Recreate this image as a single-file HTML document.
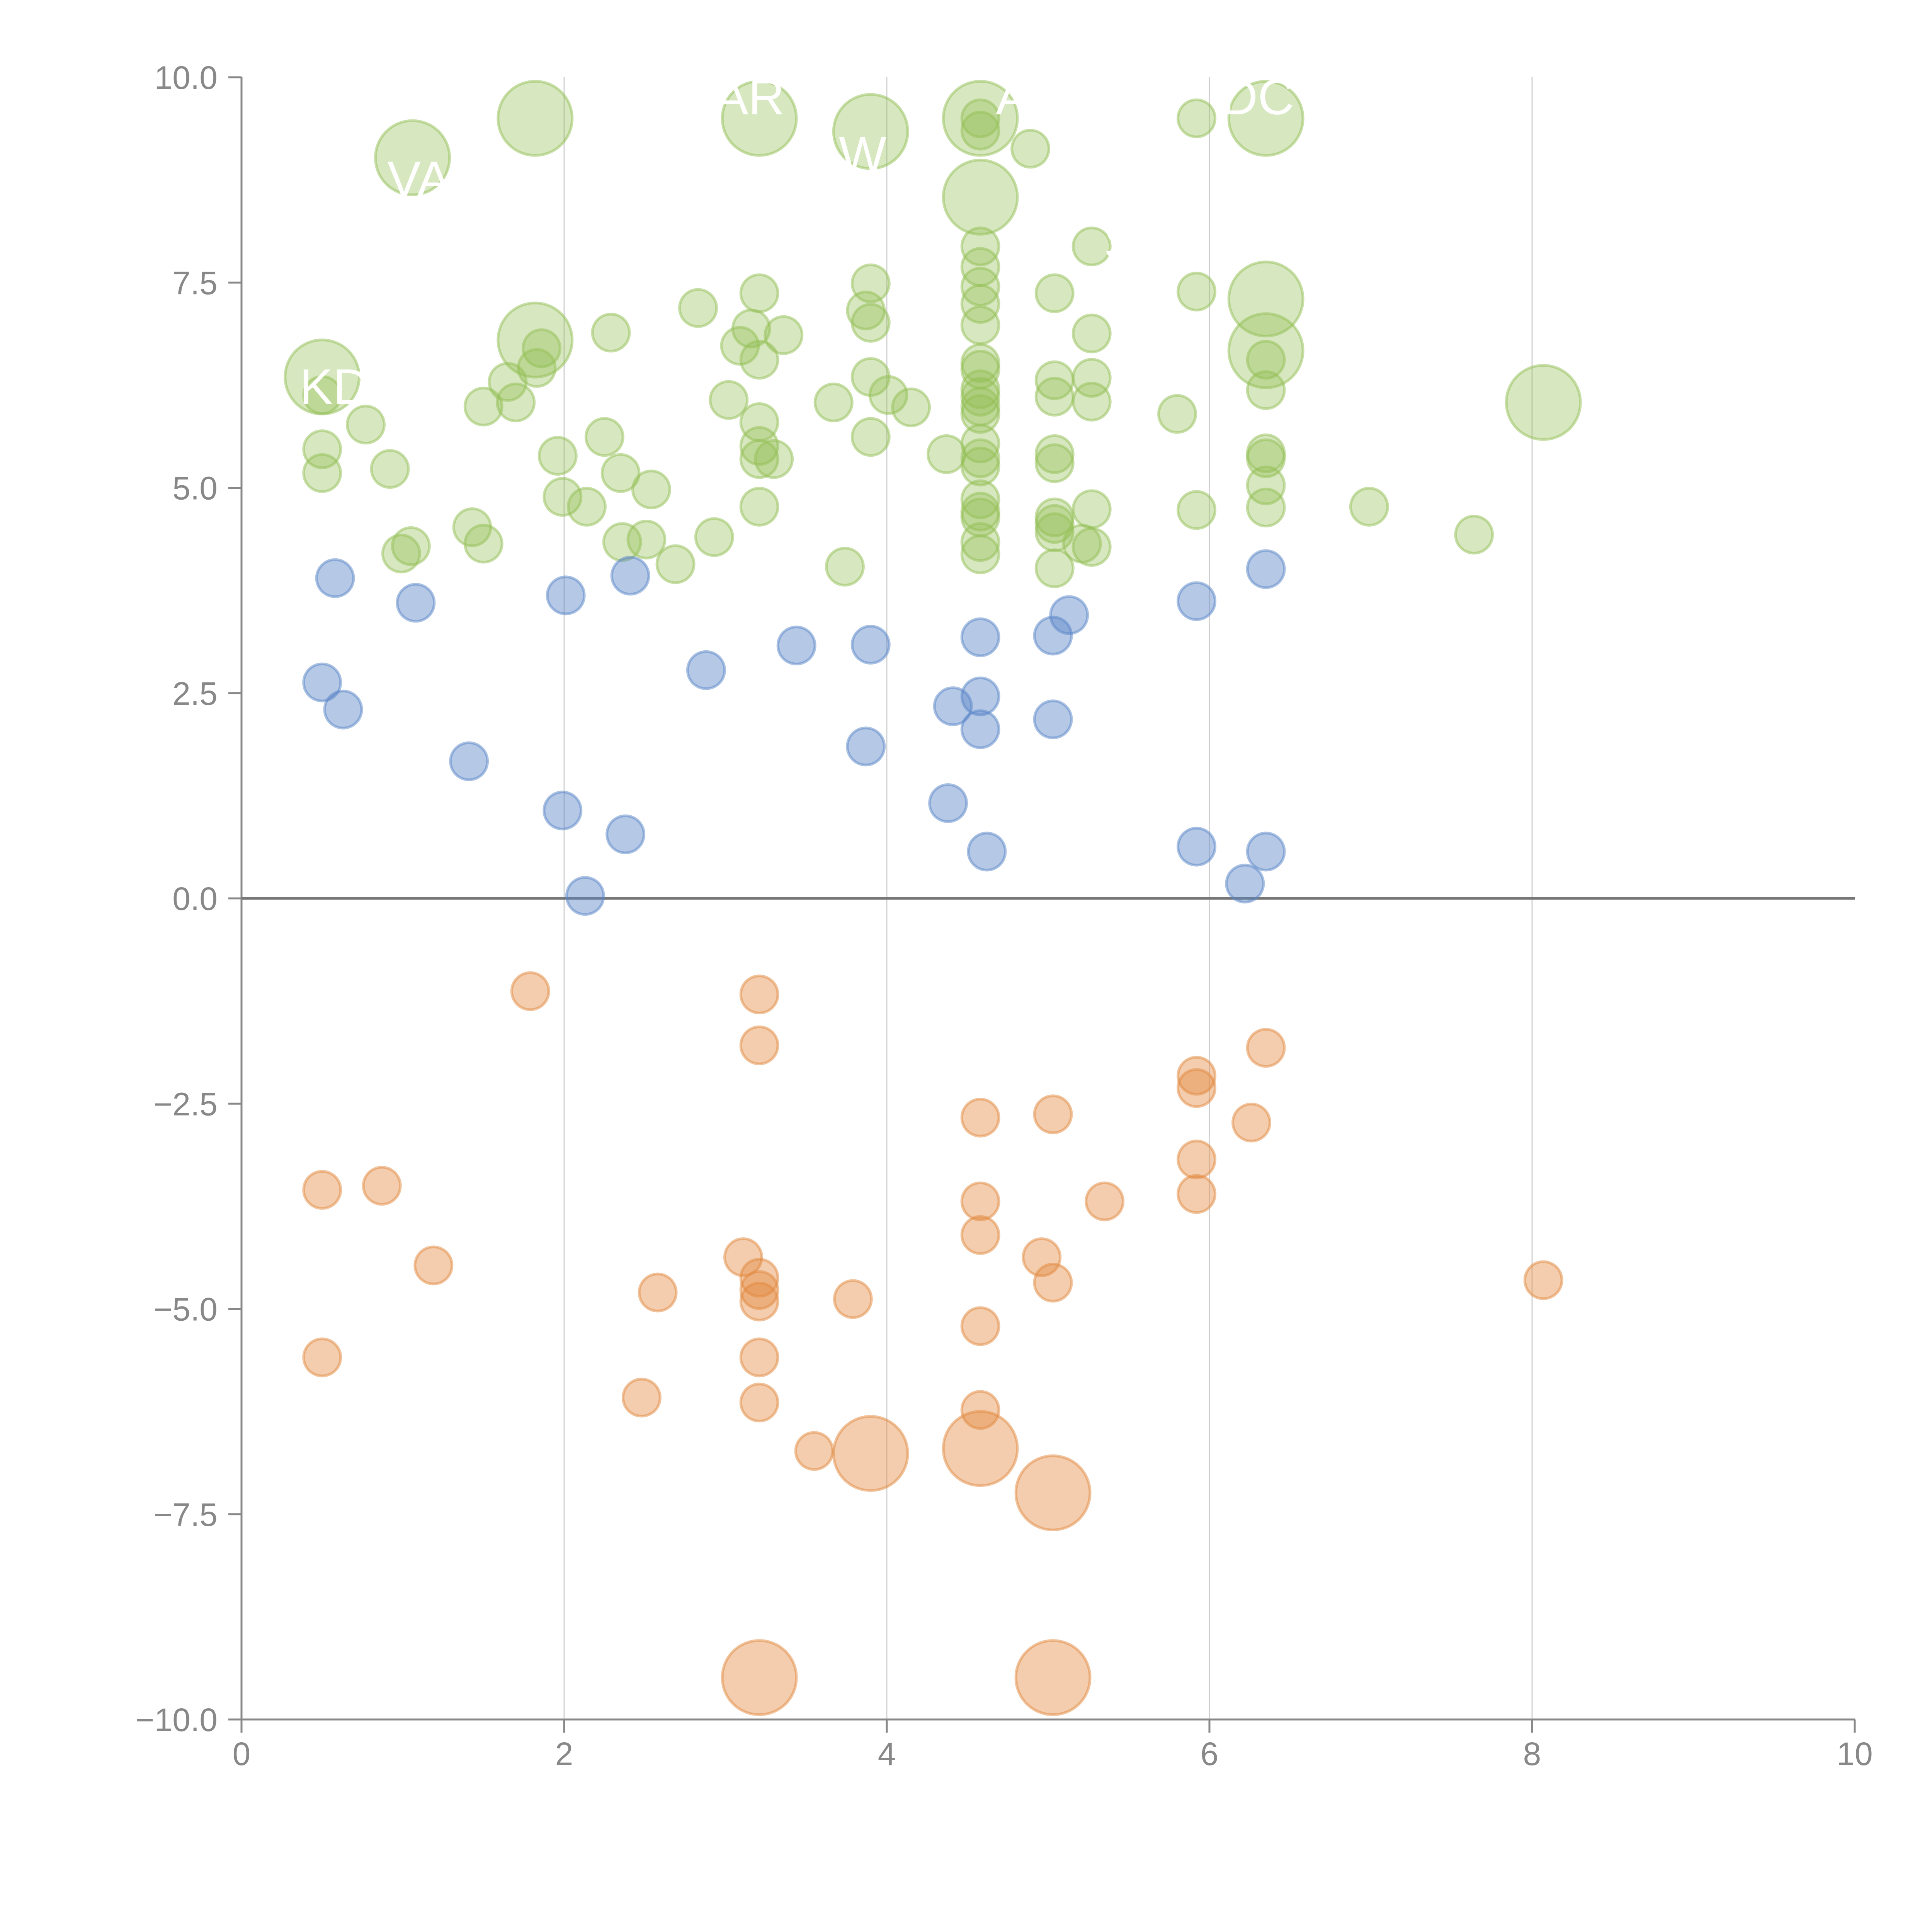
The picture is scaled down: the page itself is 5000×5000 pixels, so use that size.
<!DOCTYPE html>
<html><head><meta charset="utf-8"><style>
html,body{margin:0;padding:0;background:#fff;}
svg{display:block;}
text{font-family:"Liberation Sans",Arial,sans-serif;}
</style></head><body>
<svg id="chart" width="5000" height="5000" viewBox="0 0 5000 5000" xmlns="http://www.w3.org/2000/svg">
<g id="grid"></g>
<g id="axes"></g>
<g id="marks"></g>
<g id="labels"></g>
</svg>
<script>
// ---- data ----
const blueX=[0.58,1.08,0.50,0.63,1.41,2.01,2.41,1.99,2.38,2.13,2.88,3.44,3.90,3.87,4.38,4.41,4.58,4.58,4.58,4.62,5.03,5.13,5.03,5.92,5.92,6.22,6.35,6.35];
const blueY=[3.90,3.60,2.63,2.30,1.67,3.69,3.93,1.07,0.78,0.03,2.78,3.08,3.09,1.85,1.16,2.34,3.18,2.46,2.06,0.57,3.20,3.45,2.18,3.62,0.63,0.18,4.01,0.57];
const blueS=[1,1,1,1,1,1,1,1,1,1,1,1,1,1,1,1,1,1,1,1,1,1,1,1,1,1,1,1];

const orangeX=[1.79,0.50,0.87,1.19,0.50,3.21,3.21,3.11,3.21,3.21,3.21,2.58,3.21,3.21,2.48,3.55,3.79,4.58,4.58,4.58,4.58,4.58,5.03,4.96,5.03,5.35,5.92,5.92,5.92,5.92,6.26,6.35,8.07,3.90,4.58,5.03,3.21,5.03];
const orangeY=[-1.13,-3.55,-3.50,-4.47,-5.59,-1.17,-1.79,-4.37,-4.62,-4.77,-4.91,-4.80,-5.59,-6.14,-6.08,-6.73,-4.88,-2.67,-3.69,-4.10,-5.21,-6.23,-2.63,-4.37,-4.68,-3.69,-2.16,-2.31,-3.18,-3.60,-2.73,-1.82,-4.65,-6.76,-6.70,-7.24,-9.49,-9.49];
const orangeS=[1,1,1,1,1,1,1,1,1,1,1,1,1,1,1,1,1,1,1,1,1,1,1,1,1,1,1,1,1,1,1,1,1,4,4,4,4,4];

const greenX=[1.06,1.82,3.21,3.90,4.58,4.58,6.35,6.35,6.35,1.82,0.50,8.07,
4.89,5.92,4.58,4.58,5.27,5.92,4.58,4.58,4.58,4.58,4.58,4.58,4.58,4.58,4.58,4.58,4.58,4.58,4.58,4.58,4.58,4.58,4.58,4.58,4.58,
3.90,3.87,3.90,3.90,4.01,4.15,3.90,3.67,4.37,3.74,2.83,3.21,3.16,3.09,3.21,3.36,3.02,3.21,3.21,3.21,3.30,3.21,2.93,2.69,2.51,2.36,2.35,2.54,2.25,2.29,1.86,1.83,1.65,1.70,1.50,0.77,0.50,0.50,0.50,0.92,1.96,1.99,2.14,1.43,1.50,1.05,0.99,
5.04,5.27,5.04,5.04,5.27,5.27,5.04,5.04,5.04,5.04,5.04,5.04,5.27,5.27,5.21,5.80,5.92,6.35,6.35,6.35,6.35,6.35,6.35,6.99,7.64];
const greenY=[9.02,9.50,9.50,9.34,9.50,8.54,9.50,7.30,6.67,6.80,6.35,6.04,
9.13,9.50,9.50,9.35,7.94,7.39,7.94,7.69,7.45,7.24,6.98,6.52,6.44,6.20,6.11,5.99,5.90,5.54,5.36,5.26,4.86,4.71,4.64,4.34,4.19,
7.49,7.16,7.01,6.35,6.13,5.98,5.62,6.04,5.41,4.04,7.19,7.37,6.94,6.73,6.56,6.86,6.07,5.80,5.51,5.35,5.35,4.77,4.40,4.07,4.37,4.34,5.18,4.98,5.62,6.89,6.70,6.46,6.29,6.04,5.99,5.77,6.13,5.47,5.18,5.23,5.39,4.89,4.77,4.52,4.32,4.29,4.20,
7.37,6.88,6.31,6.11,6.34,6.05,5.41,5.30,4.64,4.56,4.46,4.02,4.74,4.28,4.32,5.90,4.73,6.56,6.19,5.42,5.36,5.03,4.76,4.77,4.43];
const greenS=[4,4,4,4,4,4,4,4,4,4,4,4].concat(new Array(greenX.length-12).fill(1));

const xTicks=[0,2,4,6,8,10];
const xTickLabels=["0","2","4","6","8","10"];
const yTicks=[-10,-7.5,-5,-2.5,0,2.5,5,7.5,10];
const yTickLabels=["\u221210.0","\u22127.5","\u22125.0","\u22122.5","0.0","2.5","5.0","7.5","10.0"];
const labelText=["VA","AR","W","A","DC","S","KDA"];
const labelX=[1.10,3.15,3.85,4.78,6.30,5.45,0.68];
const labelY=[8.55,9.55,8.85,9.55,9.55,7.78,6.02];

// ---- scales ----
const X0=625,X1=4800,Y0=4450,Y1=200;
const sx=v=>X0+(v-0)/(10-0)*(X1-X0);
const sy=v=>Y0-(v+10)/20*(Y0-Y1);
const sr=s=>48*Math.sqrt(s);
const NS="http://www.w3.org/2000/svg";
function mk(tag,parent,attrs){const e=document.createElementNS(NS,tag);for(const k in attrs)e.setAttribute(k,attrs[k]);parent.appendChild(e);return e;}

const grid=document.getElementById('grid');
const axes=document.getElementById('axes');
const marks=document.getElementById('marks');
const labels=document.getElementById('labels');

xTicks.forEach((t,i)=>{if(t===0||t===10)return;
 const l=mk('line',grid,{x1:sx(t),x2:sx(t),y1:Y1,y2:Y0,stroke:'#d0d0d0','stroke-width':3});
 
 
});

const ya=mk('line',axes,{x1:X0,x2:X0,y1:Y1,y2:Y0+34,stroke:'#888','stroke-width':5});


const xa=mk('line',axes,{x1:X0-34,x2:X1,y1:Y0,y2:Y0,stroke:'#888','stroke-width':5});


const zl=mk('line',axes,{x1:X0,x2:X1,y1:sy(0),y2:sy(0),stroke:'#777','stroke-width':7});



xTicks.forEach((t,i)=>{
 const tk=mk('line',axes,{x1:sx(t),x2:sx(t),y1:Y0,y2:Y0+34,stroke:'#888','stroke-width':5});
 
 
 const tx=mk('text',axes,{x:sx(t),y:Y0+118,'text-anchor':'middle','font-size':84,fill:'#888'});
 tx.textContent=xTickLabels[i];
 
 
});
yTicks.forEach((t,i)=>{
 const tk=mk('line',axes,{x1:X0-34,x2:X0,y1:sy(t),y2:sy(t),stroke:'#888','stroke-width':5});
 
 
 const tx=mk('text',axes,{x:X0-62,y:sy(t)+30,'text-anchor':'end','font-size':84,fill:'#888'});
 tx.textContent=yTickLabels[i];
 
 
});

function series(xs,ys,ss,fill,stroke,fo,name){
 xs.forEach((x,i)=>{
  const c=mk('circle',marks,{cx:sx(x),cy:sy(ys[i]),r:sr(ss[i]),fill:fill,'fill-opacity':fo,stroke:stroke,'stroke-opacity':0.5,'stroke-width':7});
  
  
 });
}
series(greenX,greenY,greenS,'#93bf55','#93bf55',0.37,'green');
series(blueX,blueY,blueS,'#5a86c8','#5a86c8',0.45,'blue');
series(orangeX,orangeY,orangeS,'#e2893f','#e2893f',0.42,'orange');

labelText.forEach((t,i)=>{
 const tx=mk('text',labels,{x:sx(labelX[i]),y:sy(labelY[i]),'text-anchor':'middle','font-size':130,fill:'#fff'});
 tx.textContent=t;
 
 
});
</script>
</body></html>
